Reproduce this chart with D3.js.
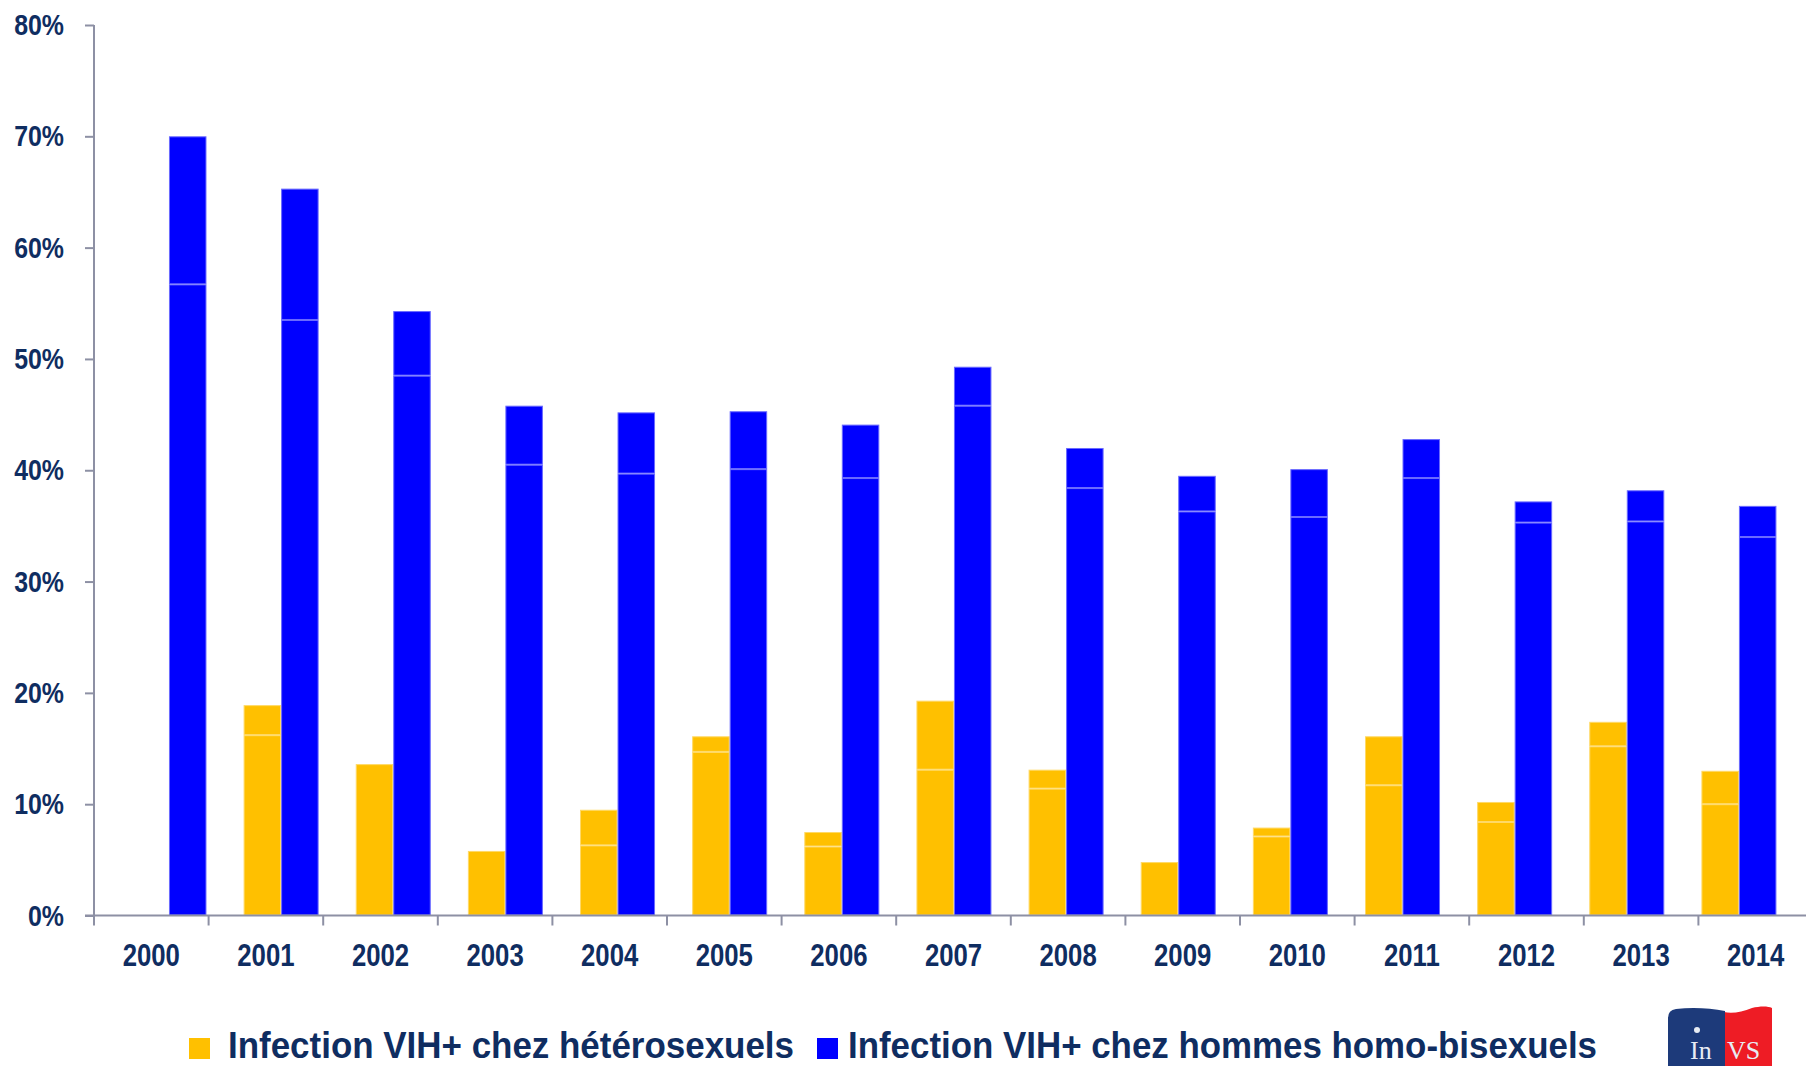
<!DOCTYPE html>
<html>
<head>
<meta charset="utf-8">
<script src="https://cdn.jsdelivr.net/npm/d3@7"></script>
<style>
  body { margin: 0; background: #fff; }
  svg { display: block; }
</style>
</head>
<body>
<div id="chart"></div>
<script>
// Data (percent)
const years = ["2000", "2001", "2002", "2003", "2004", "2005", "2006", "2007",
               "2008", "2009", "2010", "2011", "2012", "2013", "2014"];
const hetero      = [null, 18.9, 13.6, 5.8, 9.5, 16.1, 7.5, 19.3, 13.1, 4.8, 7.9, 16.1, 10.2, 17.4, 13.0];
const heteroInner = [null, 16.2, null, null, 6.3, 14.7, 6.2, 13.1, 11.4, null, 7.1, 11.7, 8.4, 15.2, 10.0];
const homo        = [70.0, 65.3, 54.3, 45.8, 45.2, 45.3, 44.1, 49.3, 42.0, 39.5, 40.1, 42.8, 37.2, 38.2, 36.8];
const homoInner   = [56.7, 53.5, 48.5, 40.5, 39.7, 40.1, 39.3, 45.8, 38.4, 36.3, 35.8, 39.3, 35.3, 35.4, 34.0];
const yTicks = [0, 10, 20, 30, 40, 50, 60, 70, 80];
const legendLabels = ["Infection VIH+ chez hétérosexuels", "Infection VIH+ chez hommes homo-bisexuels"];

const W = 1806, H = 1066;
const textColor = "#0f2d61";
const axisColor = "#8d90a4";
const font = "'Liberation Sans', Arial, sans-serif";
const narrow = 0.83; // squeeze to look like Arial Narrow

const series = [
  {key: "het", total: hetero, inner: heteroInner, fill: "#ffc000", edge: "#ffd966"},
  {key: "homo", total: homo, inner: homoInner, fill: "#0000ff", edge: "#6a6aff"}
];

const svg = d3.select("#chart").append("svg")
  .attr("width", W).attr("height", H)
  .style("font-family", font);

// squeeze a text selection horizontally
function squeeze(sel) {
  sel.each(function() {
    const w = this.getComputedTextLength();
    d3.select(this).attr("textLength", w * narrow).attr("lengthAdjust", "spacingAndGlyphs");
  });
}

// Scales
const y = d3.scaleLinear().domain([0, 80]).range([915.5, 25]);
const xAxisScale = d3.scaleBand().domain(years).range([94, 94 + 15 * 114.6]).padding(0);
// the bars in the original sit on a slightly tighter grid than the labels
const xBars = d3.scaleBand().domain(years).range([112.9, 112.9 + 15 * 112.14]).padding(0);
const xSub = d3.scaleBand().domain(series.map(s => s.key))
  .range([0, xBars.bandwidth()]).paddingInner(0).paddingOuter(0.495);

// Build stacked segments (the faint line inside each bar)
const segments = [];
series.forEach(s => {
  years.forEach((yr, i) => {
    const t = s.total[i];
    if (t == null) return;
    const inner = s.inner[i];
    if (inner != null) {
      segments.push({yr, s, v0: 0, v1: inner});
      segments.push({yr, s, v0: inner, v1: t});
    } else {
      segments.push({yr, s, v0: 0, v1: t});
    }
  });
});

svg.append("g").selectAll("rect")
  .data(segments)
  .join("rect")
  .attr("x", d => xBars(d.yr) + xSub(d.s.key) + 0.5)
  .attr("y", d => y(d.v1) + 0.5)
  .attr("width", xSub.bandwidth() - 1)
  .attr("height", d => Math.max(0, y(d.v0) - y(d.v1) - 1))
  .attr("fill", d => d.s.fill)
  .attr("stroke", d => d.s.edge)
  .attr("stroke-width", 1);

// Y axis
const yAxis = svg.append("g")
  .attr("transform", "translate(94,0)")
  .call(d3.axisLeft(y).tickValues(yTicks).tickSize(9).tickPadding(21)
    .tickFormat(d => d + "%"));
yAxis.select(".domain").attr("stroke", axisColor).attr("stroke-width", 2)
  .attr("d", `M0,${y(80)}V${y(0)}`);
yAxis.selectAll(".tick line").attr("stroke", axisColor).attr("stroke-width", 2);
yAxis.selectAll(".tick text")
  .attr("fill", textColor)
  .style("font-size", "30px").style("font-weight", "bold").style("font-family", font)
  .call(squeeze);

// X axis line and boundary ticks
svg.append("line")
  .attr("x1", 85).attr("x2", W)
  .attr("y1", y(0)).attr("y2", y(0))
  .attr("stroke", axisColor).attr("stroke-width", 2);

const bounds = years.map(d => xAxisScale(d)).concat([xAxisScale.range()[1]]);
svg.append("g").selectAll("line")
  .data(bounds)
  .join("line")
  .attr("x1", d => d).attr("x2", d => d)
  .attr("y1", y(0)).attr("y2", y(0) + 10)
  .attr("stroke", axisColor).attr("stroke-width", 2);

svg.append("g").selectAll("text")
  .data(years)
  .join("text")
  .attr("x", d => xAxisScale(d) + xAxisScale.bandwidth() / 2)
  .attr("y", 966)
  .attr("text-anchor", "middle")
  .attr("fill", textColor)
  .style("font-size", "31px").style("font-weight", "bold")
  .text(d => d)
  .call(squeeze);

// Legend
const legendPos = [{sq: 189, tx: 228, w: 566}, {sq: 817, tx: 848, w: 749}];
const legend = svg.append("g").selectAll("g")
  .data(series)
  .join("g");
legend.append("rect")
  .attr("x", (d, i) => legendPos[i].sq).attr("y", 1038)
  .attr("width", 21).attr("height", 21)
  .attr("fill", d => d.fill);
legend.append("text")
  .attr("x", (d, i) => legendPos[i].tx).attr("y", 1058)
  .attr("fill", textColor)
  .attr("textLength", (d, i) => legendPos[i].w)
  .attr("lengthAdjust", "spacingAndGlyphs")
  .style("font-size", "36px").style("font-weight", "bold")
  .text((d, i) => legendLabels[i]);

// InVS logo, bottom right
const logo = svg.append("g").attr("transform", "translate(1668,1008)");
logo.append("path")
  .attr("d", "M56,4 C64,6 74,4 84,0 C92,-2 100,-2 104,0 L104,58 L56,58 Z")
  .attr("fill", "#ee1c25");
logo.append("path")
  .attr("d", "M0,10 Q0,2 8,1 C24,-1 42,0 57,3 L57,58 L0,58 Z")
  .attr("fill", "#1d3a7a");
logo.append("circle").attr("cx", 29).attr("cy", 22).attr("r", 3).attr("fill", "#e8ecf4");
logo.append("text")
  .attr("x", 22).attr("y", 51)
  .attr("fill", "#e8ecf4")
  .style("font-family", "'Liberation Serif', 'DejaVu Serif', serif")
  .style("font-size", "26px")
  .text("In");
logo.append("text")
  .attr("x", 59).attr("y", 51)
  .attr("fill", "#e8ecf4")
  .style("font-family", "'Liberation Serif', 'DejaVu Serif', serif")
  .style("font-size", "26px")
  .text("VS");
</script>
</body>
</html>
